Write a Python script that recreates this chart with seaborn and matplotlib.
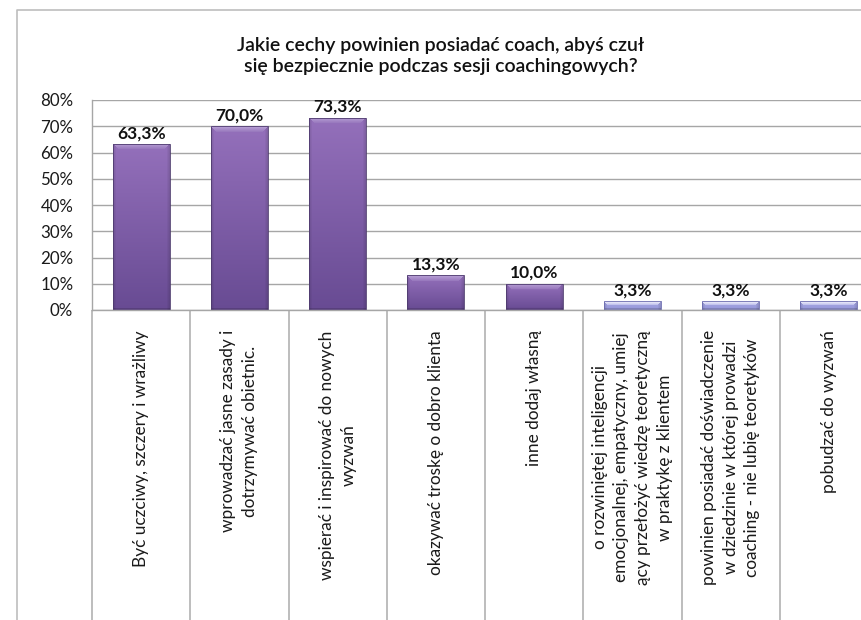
import numpy as np
import pandas as pd
import matplotlib
matplotlib.use("Agg")
import matplotlib.pyplot as plt
from matplotlib.lines import Line2D
from matplotlib.colors import to_rgb
import seaborn as sns

# Survey answers (share of respondents, %)
categories = [
    "Być uczciwy, szczery i wrażliwy",
    "wprowadzać jasne zasady i\ndotrzymywać obietnic.",
    "wspierać i inspirować do nowych\nwyzwań",
    "okazywać troskę o dobro klienta",
    "inne dodaj własną",
    "o rozwiniętej inteligencji\nemocjonalnej, empatyczny, umiej\nący przełożyć wiedzę teoretyczną\nw praktykę z klientem",
    "powinien posiadać doświadczenie\nw dziedzinie w której prowadzi\ncoaching - nie lubię teoretyków",
    "pobudzać do wyzwań",
]
shares = [63.3, 70.0, 73.3, 13.3, 10.0, 3.3, 3.3, 3.3]
y_ticks = [0, 10, 20, 30, 40, 50, 60, 70, 80]
y_tick_labels = ["0%", "10%", "20%", "30%", "40%", "50%", "60%", "70%", "80%"]
title = "Jakie cechy powinien posiadać coach, abyś czuł\nsię bezpiecznie podczas sesji coachingowych?"

sns.set_theme(style="white")
plt.rcParams["font.family"] = ["Lato", "DejaVu Sans"]

W, H = 862, 620
fig = plt.figure(figsize=(W / 100, H / 100), dpi=100)
fig.patch.set_facecolor("white")

# chart-area frame (left and top edges)
fig.add_artist(Line2D([17.5 / W, 17.5 / W, 1.0], [0.0, 1 - 10 / H, 1 - 10 / H],
                      transform=fig.transFigure, color="#bdbdbd", linewidth=1.2, zorder=10))

fig.text(441 / W, 1 - 56 / H, title, ha="center", va="center", fontsize=14,
         fontweight="semibold", color="#111111", linespacing=1.3)

ax_left, ax_right, ax_top, ax_bottom = 92, 878, 100, 310
ax = fig.add_axes([ax_left / W, 1 - ax_bottom / H, (ax_right - ax_left) / W, (ax_bottom - ax_top) / H])

df = pd.DataFrame({"kategoria": categories, "udzial": shares})
dark, light = "#7f5fa8", "#a2a3e0"
palette = [dark] * 5 + [light] * 3
sns.barplot(data=df, x="kategoria", y="udzial", hue="kategoria", palette=palette,
            legend=False, width=0.58, ax=ax, edgecolor="#4e3b6e", linewidth=0.6,
            saturation=1)

ax.set_xlim(-0.5, len(categories) - 0.5)
ax.set_ylim(0, 80)

# bevelled shading painted inside each bar
px_per_x = (ax_right - ax_left) / len(categories)
px_per_y = (ax_bottom - ax_top) / 80.0
styles = {
    dark: dict(top="#9470bb", bottom="#684b93", bevel_hi="#b9a1d6", bevel_lo="#9a7bbf", edge="#4e3b6e"),
    light: dict(top="#a9aae6", bottom="#9596d8", bevel_hi="#f2f2fc", bevel_lo="#c4c5ee", edge="#6a6aae"),
}
for patch, col in zip(ax.patches, palette):
    st = styles[col]
    x0, w, h = patch.get_x(), patch.get_width(), patch.get_height()
    cols = max(int(round(w * px_per_x)), 2)
    rows = max(int(round(h * px_per_y)), 2)
    top, bot = np.array(to_rgb(st["top"])), np.array(to_rgb(st["bottom"]))
    hi, lo = np.array(to_rgb(st["bevel_hi"])), np.array(to_rgb(st["bevel_lo"]))
    img = np.zeros((rows, cols, 3))
    band = min(6, max(2, int(rows * 0.5)))
    for r in range(rows):
        t = r / max(rows - 1, 1)
        base = top * (1 - t) + bot * t
        for c in range(cols):
            edge_d = min(c, cols - 1 - c)
            if r < band and edge_d >= r:
                s = r / max(band - 1, 1)
                px = hi * (1 - s) + lo * s
            else:
                px = base.copy()
                if edge_d < 3:
                    px = px * (0.88 + 0.04 * edge_d)
                if rows - 1 - r < 2:
                    px = px * 0.85
            img[r, c] = px
    im = ax.imshow(img, extent=[x0, x0 + w, 0, h], aspect="auto", interpolation="bilinear",
                   zorder=patch.get_zorder() + 0.1)
    im.set_clip_path(patch)
    patch.set_edgecolor(st["edge"])
    patch.set_zorder(patch.get_zorder() + 0.2)
    patch.set_facecolor("none")

ax.set_xlim(-0.5, len(categories) - 0.5)
ax.set_ylim(0, 80)

for cont in ax.containers:
    ax.bar_label(cont, fmt=lambda v: f"{v:.1f}%".replace(".", ","), padding=2,
                 fontsize=12.5, fontweight="bold", color="#111111")

grid_col = "#a6a6a6"
ax.set_axisbelow(True)
ax.yaxis.grid(True, color=grid_col, linewidth=1.0)
ax.xaxis.grid(False)
ax.set_yticks(y_ticks)
ax.set_yticklabels(y_tick_labels)
ax.tick_params(axis="y", length=0, pad=13.5, labelsize=12.2, labelcolor="#1a1a1a")

ax.set_xticks(range(len(categories)))
ax.set_xticklabels(categories, rotation=90, multialignment="center", linespacing=1.45)
ax.tick_params(axis="x", which="major", length=0, pad=14.5, labelsize=12.4, labelcolor="#1a1a1a")

# category separators running from the baseline down through the label area
boundaries = np.arange(len(categories) + 1) - 0.5
below = -(H - ax_bottom + 5) / (ax_bottom - ax_top)
ax.vlines(boundaries, below, 0, transform=ax.get_xaxis_transform(), clip_on=False,
          colors="#b8b8b8", linewidth=1.3, zorder=1)

for side in ("top", "right"):
    ax.spines[side].set_visible(False)
for side in ("left", "bottom"):
    ax.spines[side].set_color("#a6a6a6")
    ax.spines[side].set_linewidth(1.0)
ax.set_xlabel("")
ax.set_ylabel("")

fig.savefig("out.png", dpi=100, facecolor="white")
